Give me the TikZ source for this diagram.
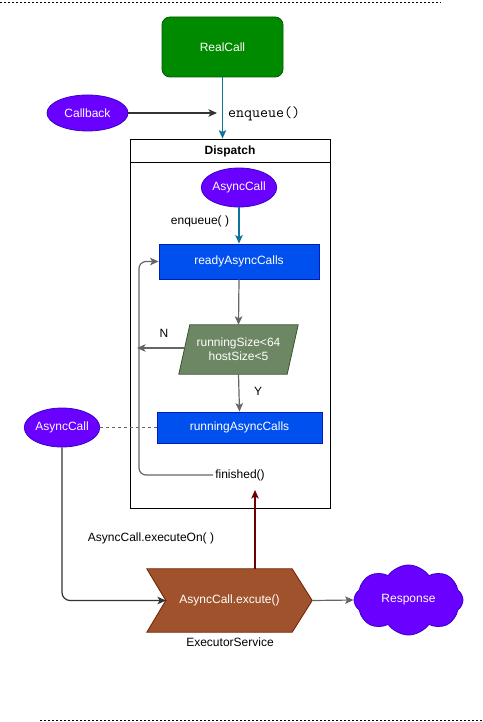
\documentclass[tikz,border=0pt]{standalone}
\usepackage{fontspec}
\setmainfont{Liberation Sans}
\usetikzlibrary{arrows.meta,shapes.geometric,shapes.symbols,backgrounds}
\definecolor{rcGreen}{HTML}{008A00}
\definecolor{rcGreenD}{HTML}{005700}
\definecolor{purp}{HTML}{6A00FF}
\definecolor{purpD}{HTML}{3700CC}
\definecolor{blu}{HTML}{0050EF}
\definecolor{bluD}{HTML}{001DBC}
\definecolor{sage}{HTML}{6D8764}
\definecolor{sageD}{HTML}{3A5431}
\definecolor{brn}{HTML}{A0522D}
\definecolor{brnD}{HTML}{6D1F00}
\definecolor{arrBlue}{HTML}{10739E}
\definecolor{grayc}{HTML}{666666}
\definecolor{darkc}{HTML}{333333}
\definecolor{dred}{HTML}{6F0000}
\tikzset{
  base/.style={font=\fontsize{12}{14}\selectfont, text=white, inner sep=0pt, align=center},
  greenbox/.style={base, rectangle, rounded corners=8pt, fill=rcGreen, draw=rcGreenD, line width=0.8pt, minimum width=121pt, minimum height=60pt},
  purpleell/.style={base, ellipse, fill=purp, draw=purpD, line width=0.8pt},
  bluebox/.style={base, rectangle, fill=blu, draw=bluD, line width=0.8pt},
  lbl/.style={font=\fontsize{12}{14}\selectfont, text=black, inner sep=0pt},
  tip/.style={-{Stealth[length=8.5pt,width=7.5pt,inset=2pt]}},
  bluearrow/.style={tip, draw=arrBlue, line width=1.2pt},
  grayarrow/.style={tip, draw=grayc, line width=1.2pt},
  darkarrow/.style={tip, draw=darkc, line width=1.2pt},
  redarrow/.style={tip, draw=dred, line width=1.2pt},
  sep/.style={draw=black, dash pattern=on 2pt off 2pt, line width=0.8pt}
}
\begin{document}
\begin{tikzpicture}[x=1pt,y=-1pt]
\useasboundingbox (0,0) rectangle (482,722);
% separators
\coordinate (t1) at (0,2); \coordinate (t2) at (441,2);
\coordinate (b1) at (40,720); \coordinate (b2) at (482,720);
\draw[sep] (t1) -- (t2);
\draw[sep] (b1) -- (b2);

% top
\node[greenbox] (rc) at (222.5,47) {RealCall};
\node[purpleell, minimum width=81pt, minimum height=36pt] (cb) at (87.5,113) {Callback};
\coordinate (cbEnd) at (217,113);
\node[font=\ttfamily\fontsize{15.5}{16}\selectfont, inner sep=0pt, anchor=west] (enq) at (228,114) {enqueue()};
\draw[darkarrow] (cb.east) -- (cbEnd);

% dispatch box
\node[draw=black, line width=0.9pt, minimum width=200pt, minimum height=369pt, inner sep=0pt] (disp) at (230,323.5) {};
\coordinate (hdl) at (130,162); \coordinate (hdr) at (330,162);
\draw[line width=0.9pt] (hdl) -- (hdr);
\node[lbl, font=\bfseries\fontsize{12}{14}\selectfont] (dtitle) at (230,151) {Dispatch};
\draw[bluearrow] (rc.south) -- (rc.south |- disp.north);

\node[purpleell, minimum width=72pt, minimum height=39pt] (ac1) at (239,187.5) {AsyncCall};
\node[lbl] (enq2) at (200,221) {enqueue( )};
\node[bluebox, minimum width=160pt, minimum height=35pt] (ready) at (239,261.5) {readyAsyncCalls};
\draw[bluearrow] (ac1.south) -- (ready.north);

\node[base, minimum width=108pt, minimum height=49pt] (diam) at (238.5,349.5) {runningSize<64\\hostSize<5};
\begin{scope}[on background layer]
\draw[fill=sage, draw=sageD, line width=0.8pt]
  ([xshift=5.5pt]diam.north west) -- ([xshift=5.5pt]diam.north east) --
  ([xshift=-5.5pt]diam.south east) -- ([xshift=-5.5pt]diam.south west) -- cycle;
\end{scope}
\draw[grayarrow] (ready.south) -- (diam.north);

\node[bluebox, minimum width=165pt, minimum height=31pt] (run) at (239.5,427.5) {runningAsyncCalls};
\draw[grayarrow] (diam.south) -- (run.north);
\node[lbl] (ylab) at (258,391) {Y};

\coordinate (nEnd) at (137,348);
\draw[grayarrow] (diam.west |- nEnd) -- (nEnd);
\node[lbl] (nlab) at (164,333) {N};

\node[lbl] (fin) at (240,475) {finished()};
\coordinate (loopx) at (139,475);
\draw[grayarrow, rounded corners=7pt] ([xshift=-2pt]fin.west) -| (loopx |- ready.west) -- (ready.west);

% left async call
\node[purpleell, minimum width=72pt, minimum height=39pt] (ac2) at (62,427.5) {AsyncCall};
\draw[draw=grayc, line width=1.2pt, dash pattern=on 3pt off 3pt] (ac2.east) -- (run.west);

% executor
\node[base, minimum width=165pt, minimum height=63pt] (exe) at (229.5,600.5) {AsyncCall.excute()};
\begin{scope}[on background layer]
\draw[fill=brn, draw=brnD, line width=0.8pt]
  (exe.north west) -- ([xshift=-20pt]exe.north east) -- (exe.east) --
  ([xshift=-20pt]exe.south east) -- (exe.south west) -- ([xshift=19pt]exe.west) -- cycle;
\end{scope}
\node[lbl] (exs) at (230,642) {ExecutorService};
\node[lbl] (exon) at (151,538) {AsyncCall.executeOn( )};
\coordinate (notch) at (166,600.5);
\draw[darkarrow, rounded corners=8pt] (ac2.south) |- (notch);

\coordinate (finIn) at (255,490);
\draw[redarrow] ([xshift=25.5pt]exe.north) -- (finIn);

\node[cloud, cloud puffs=8, cloud puff arc=110, aspect=1.6, fill=purp, draw=purpD, line width=0.8pt, font=\fontsize{12}{14}\selectfont, text=white, inner sep=0pt, minimum width=109pt, minimum height=70pt] (resp) at (408.5,600) {Response};
\draw[grayarrow] (exe.east) -- (resp.west);
\end{tikzpicture}
\end{document}
